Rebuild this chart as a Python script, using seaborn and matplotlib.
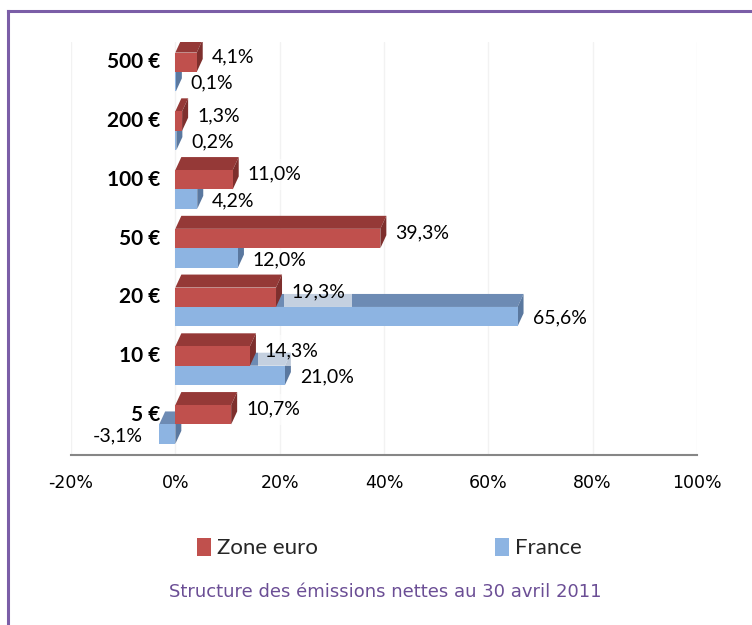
import matplotlib
matplotlib.use("Agg")
import matplotlib.pyplot as plt
import seaborn as sns
import pandas as pd
from matplotlib.patches import Polygon, Rectangle
from matplotlib.lines import Line2D
from matplotlib.ticker import FuncFormatter

# ---- data ----
categories = ["500 €", "200 €", "100 €", "50 €", "20 €", "10 €", "5 €"]
zone_euro = [4.1, 1.3, 11.0, 39.3, 19.3, 14.3, 10.7]
france = [0.1, 0.2, 4.2, 12.0, 65.6, 21.0, -3.1]
series = ["Zone euro", "France"]
xticks = [-20, 0, 20, 40, 60, 80, 100]
caption = "Structure des émissions nettes au 30 avril 2011"

df = pd.DataFrame({
    "Billet": categories * 2,
    "Série": [series[0]] * len(categories) + [series[1]] * len(categories),
    "Part": zone_euro + france,
})

# ---- style ----
RED, RED_TOP, RED_SIDE = "#C0504D", "#953937", "#7E2F2D"
BLUE, BLUE_TOP, BLUE_SIDE = "#8DB4E2", "#6D8BB4", "#5A789F"
PURPLE = "#7B5EA7"

sns.set_style("white")
plt.rcParams["font.family"] = ["Lato", "DejaVu Sans"]

W, H = 752, 625
fig = plt.figure(figsize=(W / 100, H / 100), dpi=100)
ax_left, ax_right, ax_top, ax_bottom = 71, 697, 42, 455
ax = fig.add_axes([ax_left / W, 1 - ax_bottom / H, (ax_right - ax_left) / W, (ax_bottom - ax_top) / H])

sns.barplot(data=df, y="Billet", x="Part", hue="Série", order=categories,
            hue_order=series, palette=[RED, BLUE], orient="h", width=0.66,
            saturation=1, linewidth=0, legend=False, errorbar=None, ax=ax)

XMIN, XMAX = -20, 100
YBOT, YTOP = 6.52, -0.51
ax.set_xlim(XMIN, XMAX)
ax.set_ylim(YBOT, YTOP)

ppx = (ax_right - ax_left) / (XMAX - XMIN)
ppy = (ax_bottom - ax_top) / (YBOT - YTOP)
DX = 6 / ppx
DY = 13 / ppy

styles = [
    (RED, RED_TOP, RED_SIDE, 5, 4, 6, -5.5),
    (BLUE, BLUE_TOP, BLUE_SIDE, 3, 2, 3.5, 1.5),
]

for cont, (fc, topc, sidec, zf, zd, zl, yshift) in zip(ax.containers, styles):
    for rect in cont:
        x = rect.get_x(); w = rect.get_width()
        y = rect.get_y(); h = rect.get_height()
        x0, x1 = min(x, x + w), max(x, x + w)
        yt, yb = min(y, y + h), max(y, y + h)
        rect.set_zorder(zf)
        top = Polygon([(x0, yt), (x1, yt), (x1 + DX, yt - DY), (x0 + DX, yt - DY)],
                      closed=True, facecolor=topc, edgecolor="none", zorder=zd)
        side = Polygon([(x1, yt), (x1 + DX, yt - DY), (x1 + DX, yb - DY), (x1, yb)],
                       closed=True, facecolor=sidec, edgecolor="none", zorder=zd)
        ax.add_patch(top)
        ax.add_patch(side)
        val = w
        yc = (yt + yb) / 2 + yshift / ppy
        txt = f"{val:.1f}%".replace(".", ",")
        if val >= 0:
            tx, ha = x1 + 15 / ppx, "left"
        else:
            tx, ha = x0 - 16 / ppx, "right"
        ax.text(tx, yc, txt, ha=ha, va="center", fontsize=14, color="#000000",
                zorder=zl,
                bbox=dict(boxstyle="square,pad=0.35", facecolor="white",
                          edgecolor="none", alpha=0.6))

# category labels (aligned with the Zone euro bars)
for cat, rect in zip(categories, ax.containers[0]):
    yc = rect.get_y() + rect.get_height() / 2
    ax.text(-15 / ppx, yc, cat, ha="right", va="center", fontsize=15,
            fontweight="bold", color="#000000", zorder=10)

# axes styling
ax.set_xlabel("")
ax.set_ylabel("")
ax.set_yticks([])
ax.set_xticks(xticks)
ax.xaxis.set_major_formatter(FuncFormatter(lambda v, p: f"{v:.0f}%"))
ax.tick_params(axis="x", direction="out", length=6, width=1.5, color="#868686",
               pad=8, labelsize=12.5, labelfontfamily="DejaVu Sans",
               labelcolor="#000000")
for s in ["top", "right", "left"]:
    ax.spines[s].set_visible(False)
ax.spines["bottom"].set_color("#868686")
ax.spines["bottom"].set_linewidth(1.5)
ax.grid(axis="x", color="#F2F2F2", linewidth=1)
ax.set_axisbelow(True)

# legend
handles = [Rectangle((0, 0), 1, 1, facecolor=RED, edgecolor="none"),
           Rectangle((0, 0), 1, 1, facecolor=BLUE, edgecolor="none")]
fig.legend(handles, series, loc="center", bbox_to_anchor=(389.5 / W, 1 - 548 / H),
           ncol=2, frameon=False, fontsize=16, handlelength=0.63,
           handleheight=0.9, handletextpad=0.25, columnspacing=8.0,
           borderpad=0, borderaxespad=0)

# caption
fig.text(385 / W, 1 - 592 / H, caption, ha="center", va="center",
         color="#6B4E95", fontsize=13, family="DejaVu Sans")

# border
fig.add_artist(Line2D([8 / W, 1], [1 - 11 / H, 1 - 11 / H], transform=fig.transFigure,
                      color=PURPLE, linewidth=2.2, solid_capstyle="projecting"))
fig.add_artist(Line2D([8 / W, 8 / W], [0, 1 - 11 / H], transform=fig.transFigure,
                      color=PURPLE, linewidth=2.2, solid_capstyle="projecting"))

fig.savefig("out.png", dpi=100)
